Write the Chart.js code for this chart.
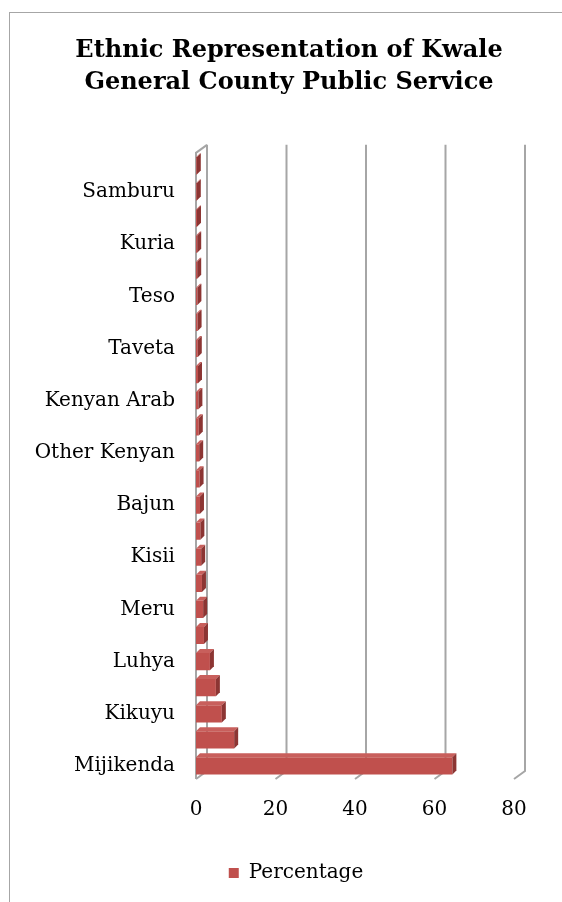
<!DOCTYPE html>
<html>
<head>
<meta charset="utf-8">
<script src="https://cdn.jsdelivr.net/npm/chart.js@4/dist/chart.umd.min.js"></script>
<style>
  html, body { margin: 0; padding: 0; background: #fff; overflow: hidden; }
  #frame {
    position: absolute; left: 9px; top: 12px;
    width: 554px; height: 900px;
    border: 1px solid #a6a6a6;
  }
  #frame canvas { display: block; }
</style>
</head>
<body>
<div id="frame"><canvas id="myChart" width="554" height="889"></canvas></div>
<script>
// bottom to top; only every other category carries a readable name
const categories = ["Mijikenda", "", "Kikuyu", "", "Luhya", "", "Meru", "", "Kisii", "", "Bajun", "",
  "Other Kenyan", "", "Kenyan Arab", "", "Taveta", "", "Teso", "", "Kuria", "", "Samburu", ""];
const percentages = [64.5, 9.6, 6.5, 5.0, 3.5, 2.0, 1.8, 1.5, 1.3, 1.1, 1.0, 0.9,
  0.8, 0.7, 0.6, 0.5, 0.45, 0.4, 0.35, 0.3, 0.3, 0.25, 0.2, 0.2];
const xTicks = [0, 20, 40, 60, 80];

const DX = 11, DY = -8;  // depth of the back wall
const BAR_D = 4;         // depth of each bar

// draws the pseudo-3D walls, gridlines and bar faces like the office chart
const threeD = {
  id: "threeD",
  afterLayout(chart) {
    // centre title and legend on the whole frame, not on the padded area
    chart.titleBlock.left += 27;
    chart.titleBlock.right += 27;
    chart.legend.left += 34;
    chart.legend.right += 34;
  },
  beforeDatasetsDraw(chart) {
    const ctx = chart.ctx, a = chart.chartArea, xs = chart.scales.x;
    ctx.save();
    ctx.lineWidth = 2;
    ctx.strokeStyle = "#a6a6a6";
    xTicks.forEach(v => {
      const xf = xs.getPixelForValue(v);
      ctx.beginPath();
      ctx.moveTo(xf + DX, a.top + DY);
      ctx.lineTo(xf + DX, a.bottom + DY);
      ctx.lineTo(xf, a.bottom);
      ctx.stroke();
    });
    const x0 = xs.getPixelForValue(0);
    ctx.beginPath();
    ctx.moveTo(x0, a.bottom);
    ctx.lineTo(x0, a.top);
    ctx.lineTo(x0 + DX, a.top + DY);
    ctx.stroke();
    ctx.restore();
  },
  afterDatasetsDraw(chart) {
    const ctx = chart.ctx;
    ctx.save();
    chart.getDatasetMeta(0).data.forEach(bar => {
      const p = bar.getProps(["x", "y", "base", "height"], true);
      const top = p.y - p.height / 2, bot = p.y + p.height / 2;
      ctx.fillStyle = "#c85f5c";
      ctx.beginPath();
      ctx.moveTo(p.base, top);
      ctx.lineTo(p.x, top);
      ctx.lineTo(p.x + BAR_D, top - BAR_D);
      ctx.lineTo(p.base + BAR_D, top - BAR_D);
      ctx.closePath();
      ctx.fill();
      ctx.fillStyle = "#8c3533";
      ctx.beginPath();
      ctx.moveTo(p.x, top);
      ctx.lineTo(p.x + BAR_D, top - BAR_D);
      ctx.lineTo(p.x + BAR_D, bot - BAR_D);
      ctx.lineTo(p.x, bot);
      ctx.closePath();
      ctx.fill();
    });
    ctx.restore();
  }
};

const serif = "'DejaVu Serif', serif";

new Chart("myChart", {
  type: "bar",
  data: {
    labels: categories,
    datasets: [{
      label: "Percentage",
      data: percentages,
      backgroundColor: "#c0504d",
      borderWidth: 0,
      barPercentage: 0.66,
      categoryPercentage: 1
    }]
  },
  options: {
    indexAxis: "y",
    responsive: false,
    animation: false,
    layout: { padding: { top: 0, right: 50, bottom: 9, left: 0 } },
    plugins: {
      title: {
        display: true,
        text: ["Ethnic Representation of Kwale", "General County Public Service"],
        color: "#000",
        font: { family: serif, size: 24, weight: "bold", lineHeight: 1.33 },
        padding: { top: 22, bottom: 54 }
      },
      legend: {
        position: "bottom",
        labels: {
          color: "#000",
          boxWidth: 10,
          boxHeight: 10,
          font: { family: serif, size: 20 }
        }
      },
      tooltip: { enabled: false }
    },
    scales: {
      x: {
        min: 0,
        max: 80,
        grid: { display: false },
        border: { display: false },
        ticks: {
          stepSize: 20,
          color: "#000",
          padding: 11,
          font: { family: serif, size: 20 }
        },
        afterFit(scale) { scale.height = 74; }
      },
      y: {
        reverse: true,
        grid: { display: false },
        border: { display: false },
        ticks: {
          autoSkip: false,
          color: "#000",
          padding: 13,
          font: { family: serif, size: 20 }
        },
        afterFit(scale) { scale.width = 186; }
      }
    }
  },
  plugins: [threeD]
});
</script>
</body>
</html>
